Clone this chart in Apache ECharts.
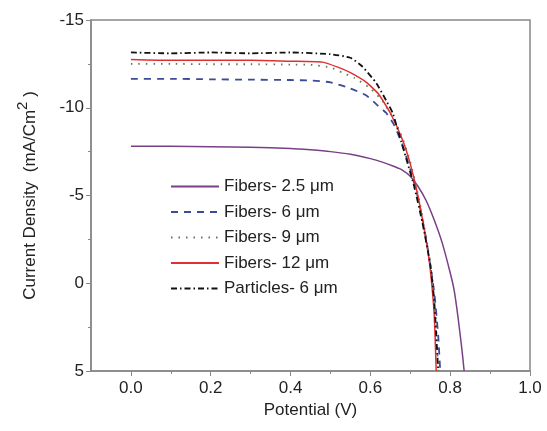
<!DOCTYPE html>
<html><head><meta charset="utf-8">
<script src="https://cdn.jsdelivr.net/npm/echarts@6/dist/echarts.min.js"></script>
<style>html,body{margin:0;padding:0;background:#fff}#c{width:547px;height:431px}</style>
</head><body><div id="c"></div>
<script>
const seriesNames = ['Fibers- 2.5 \u03bcm','Fibers- 6 \u03bcm','Fibers- 9 \u03bcm','Fibers- 12 \u03bcm','Particles- 6 \u03bcm'];
const fib25 = [[0,-7.8],[0.1,-7.8],[0.2,-7.78],[0.3,-7.75],[0.4,-7.68],[0.45,-7.6],[0.5,-7.5],[0.55,-7.35],[0.6,-7.1],[0.63,-6.9],[0.66,-6.65],[0.68,-6.45],[0.7,-6.1],[0.72,-5.5],[0.74,-4.7],[0.76,-3.6],[0.78,-2.3],[0.8,-0.6],[0.81,0.4],[0.82,2.0],[0.83,3.9],[0.835,5]];
const fib6 = [[0,-11.65],[0.1,-11.65],[0.2,-11.62],[0.3,-11.6],[0.4,-11.58],[0.45,-11.55],[0.5,-11.45],[0.55,-11.1],[0.59,-10.7],[0.62,-10.1],[0.64,-9.7],[0.66,-9.0],[0.68,-7.9],[0.7,-6.5],[0.72,-4.8],[0.74,-2.5],[0.76,0.5],[0.77,3],[0.775,5]];
const fib9 = [[0,-12.5],[0.1,-12.5],[0.2,-12.48],[0.3,-12.48],[0.4,-12.46],[0.45,-12.45],[0.5,-12.3],[0.53,-12.0],[0.56,-11.7],[0.6,-11.1],[0.63,-10.4],[0.66,-9.3],[0.68,-8.3],[0.7,-6.9],[0.72,-5.0],[0.74,-2.6],[0.755,-0.3],[0.765,2.5],[0.77,5]];
const fib12 = [[0,-12.75],[0.1,-12.7],[0.2,-12.7],[0.3,-12.7],[0.4,-12.65],[0.48,-12.6],[0.52,-12.3],[0.55,-12.0],[0.59,-11.45],[0.62,-10.8],[0.65,-9.7],[0.68,-8.2],[0.7,-6.8],[0.72,-4.9],[0.74,-2.4],[0.75,-0.8],[0.76,1.8],[0.765,5]];
const part6 = [[0,-13.15],[0.1,-13.1],[0.2,-13.15],[0.3,-13.1],[0.4,-13.15],[0.5,-13.05],[0.55,-12.85],[0.58,-12.35],[0.615,-11.4],[0.64,-10.4],[0.656,-9.7],[0.673,-8.4],[0.69,-7.1],[0.71,-5.5],[0.73,-3.5],[0.75,-1.1],[0.76,1.0],[0.77,5]];
const xMajorTicks = [0,0.2,0.4,0.6,0.8,1.0];
const xMinorTicks = [0.1,0.3,0.5,0.7,0.9];

const font = 'Liberation Sans, Arial, sans-serif';
const mk = (name, data, color, type, width) => ({
  name, type: 'line', data, symbol: 'none', smooth: 0.15, xAxisIndex: 0,
  lineStyle: { color, type, width }, itemStyle: { color }
});
const chart = echarts.init(document.getElementById('c'));
chart.setOption({
  animation: false,
  grid: { left: 91, right: 17, top: 20, bottom: 60, show: true, borderColor: '#888', borderWidth: 1.5, containLabel: false },
  legend: {
    orient: 'vertical', left: 165, top: 173, itemWidth: 48, itemHeight: 10, itemGap: 8.5,
    itemStyle: { opacity: 0 },
    textStyle: { fontFamily: font, fontSize: 17, color: '#222' },
    data: seriesNames
  },
  xAxis: [{
    type: 'value', min: -0.1, max: 1.0, interval: 0.1,
    name: 'Potential (V)', nameLocation: 'middle', nameGap: 31,
    nameTextStyle: { fontFamily: font, fontSize: 17, color: '#222' },
    axisLine: { show: true, onZero: false, lineStyle: { color: '#888', width: 1.5 } },
    axisTick: { show: true, customValues: xMajorTicks, length: 5, lineStyle: { color: '#888' } },
    axisLabel: { customValues: xMajorTicks, fontFamily: font, fontSize: 17, color: '#222', margin: 9,
      formatter: v => v.toFixed(1) },
    splitLine: { show: false }
  }, {
    type: 'value', min: -0.1, max: 1.0, interval: 0.1, position: 'bottom',
    axisLine: { show: false, onZero: false },
    axisTick: { show: true, customValues: xMinorTicks, length: 3, lineStyle: { color: '#888' } },
    axisLabel: { show: false }, splitLine: { show: false }
  }],
  yAxis: {
    type: 'value', min: -15, max: 5, interval: 5, inverse: true,
    name: '{a|Current Density  (mA/Cm}{s|2}{a| )}', nameLocation: 'middle', nameGap: 52,
    nameTextStyle: { fontFamily: font, fontSize: 17, color: '#222',
      rich: { a: { fontFamily: font, fontSize: 17, color: '#222', verticalAlign: 'bottom', lineHeight: 24 },
              s: { fontFamily: font, fontSize: 15, color: '#222', verticalAlign: 'top', lineHeight: 24, padding: [0,0,10,0] } } },
    axisLine: { show: true, onZero: false, lineStyle: { color: '#888', width: 1.5 } },
    axisTick: { show: true, length: 5, lineStyle: { color: '#888' } },
    minorTick: { show: true, splitNumber: 2, length: 3, lineStyle: { color: '#888' } },
    axisLabel: { fontFamily: font, fontSize: 17, color: '#222', margin: 7 },
    splitLine: { show: false }, minorSplitLine: { show: false }
  },
  series: [
    mk(seriesNames[0], fib25, '#7b3f87', 'solid', 1.5),
    mk(seriesNames[1], fib6, '#3c4a9a', [7,6], 1.8),
    mk(seriesNames[2], fib9, '#5a7a5a', [1.5,6], 1.8),
    mk(seriesNames[3], fib12, '#e03030', 'solid', 1.5),
    mk(seriesNames[4], part6, '#111111', [6,3,1.5,3], 1.8)
  ]
});
</script></body></html>
